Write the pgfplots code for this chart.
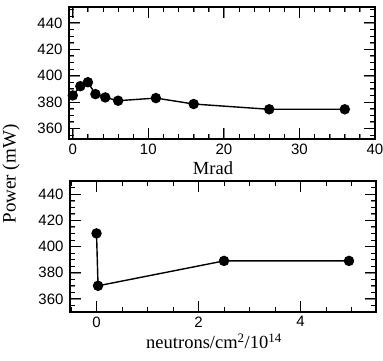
\documentclass[border=0pt]{standalone}
\usepackage{fontspec}
\setmainfont{Liberation Serif}
\setsansfont{Liberation Sans}
\usepackage{pgfplots}
\pgfplotsset{compat=1.18}
\begin{document}
\begin{tikzpicture}
\path[use as bounding box] (0pt,0pt) rectangle (383pt,361pt);
\pgfplotsset{
  myaxis/.style={
    scale only axis,
    width=306pt,
    tick align=inside,
    axis line style={line width=1.1pt},
    major tick length=11pt,
    minor tick length=5pt,
    ticklabel style={font=\fontsize{15}{15}\selectfont\sffamily},
    label style={font=\fontsize{18.5}{20}\selectfont},
    xticklabel style={yshift=-1pt},
    yticklabel style={xshift=-3pt},
    ytick={360,380,400,420,440},
    minor y tick num=3,
    /pgf/number format/assume math mode=true,
  },
  myplot/.style={black, line width=1.4pt, mark=*, mark size=4.5pt, mark options={solid, fill=black}},
}
\begin{axis}[myaxis,
  at={(69pt,222pt)}, anchor=south west,
  height=132pt,
  xmin=-0.5, xmax=40,
  ymin=352, ymax=452,
  xtick={0,10,20,30,40},
  minor x tick num=4,
  xlabel={Mrad},
  xlabel style={yshift=-1pt, xshift=-9pt},
]
\addplot[myplot] coordinates {(0,385) (1,392) (2,395) (3,386) (4.3,383.5) (6,381) (11,383) (16,378.5) (26,374.5) (36,374.5)};
\pgfplotsinvokeforeach{0,10,20,30,40}{
  \draw[line width=1pt] (axis cs:#1,352) -- ++(0pt,11pt);
  \draw[line width=1pt] (axis cs:#1,452) -- ++(0pt,-11pt);}
\pgfplotsinvokeforeach{2,4,6,8,12,14,16,18,22,24,26,28,32,34,36,38}{
  \draw[line width=0.8pt] (axis cs:#1,352) -- ++(0pt,5pt);
  \draw[line width=0.8pt] (axis cs:#1,452) -- ++(0pt,-5pt);}
\pgfplotsinvokeforeach{360,380,400,420,440}{
  \draw[line width=1pt] (axis cs:-0.5,#1) -- ++(11pt,0pt);
  \draw[line width=1pt] (axis cs:40,#1) -- ++(-11pt,0pt);}
\pgfplotsinvokeforeach{355,365,370,375,385,390,395,405,410,415,425,430,435,445,450}{
  \draw[line width=0.8pt] (axis cs:-0.5,#1) -- ++(5pt,0pt);
  \draw[line width=0.8pt] (axis cs:40,#1) -- ++(-5pt,0pt);}
\end{axis}
\begin{axis}[myaxis,
  at={(70pt,49pt)}, anchor=south west,
  height=131pt,
  xmin=-0.52, xmax=5.48,
  ymin=350, ymax=450,
  xtick={0,2,4},
  minor x tick num=3,
  xlabel={neutrons/cm\textsuperscript{2}/10\textsuperscript{14}},
  xlabel style={yshift=0pt, xshift=-9pt},
]
\addplot[myplot] coordinates {(0,410) (0.03,370) (2.5,389) (4.95,389)};
\pgfplotsinvokeforeach{0,2,4}{
  \draw[line width=1pt] (axis cs:#1,350) -- ++(0pt,11pt);
  \draw[line width=1pt] (axis cs:#1,450) -- ++(0pt,-11pt);}
\pgfplotsinvokeforeach{-0.5,0.5,1,1.5,2.5,3,3.5,4.5,5}{
  \draw[line width=0.8pt] (axis cs:#1,350) -- ++(0pt,5pt);
  \draw[line width=0.8pt] (axis cs:#1,450) -- ++(0pt,-5pt);}
\pgfplotsinvokeforeach{360,380,400,420,440}{
  \draw[line width=1pt] (axis cs:-0.52,#1) -- ++(11pt,0pt);
  \draw[line width=1pt] (axis cs:5.48,#1) -- ++(-11pt,0pt);}
\pgfplotsinvokeforeach{355,365,370,375,385,390,395,405,410,415,425,430,435,445}{
  \draw[line width=0.8pt] (axis cs:-0.52,#1) -- ++(5pt,0pt);
  \draw[line width=0.8pt] (axis cs:5.48,#1) -- ++(-5pt,0pt);}
\end{axis}
\node[rotate=90, font=\fontsize{19}{20}\selectfont] at (11pt,187pt) {Power (mW)};
\end{tikzpicture}
\end{document}
